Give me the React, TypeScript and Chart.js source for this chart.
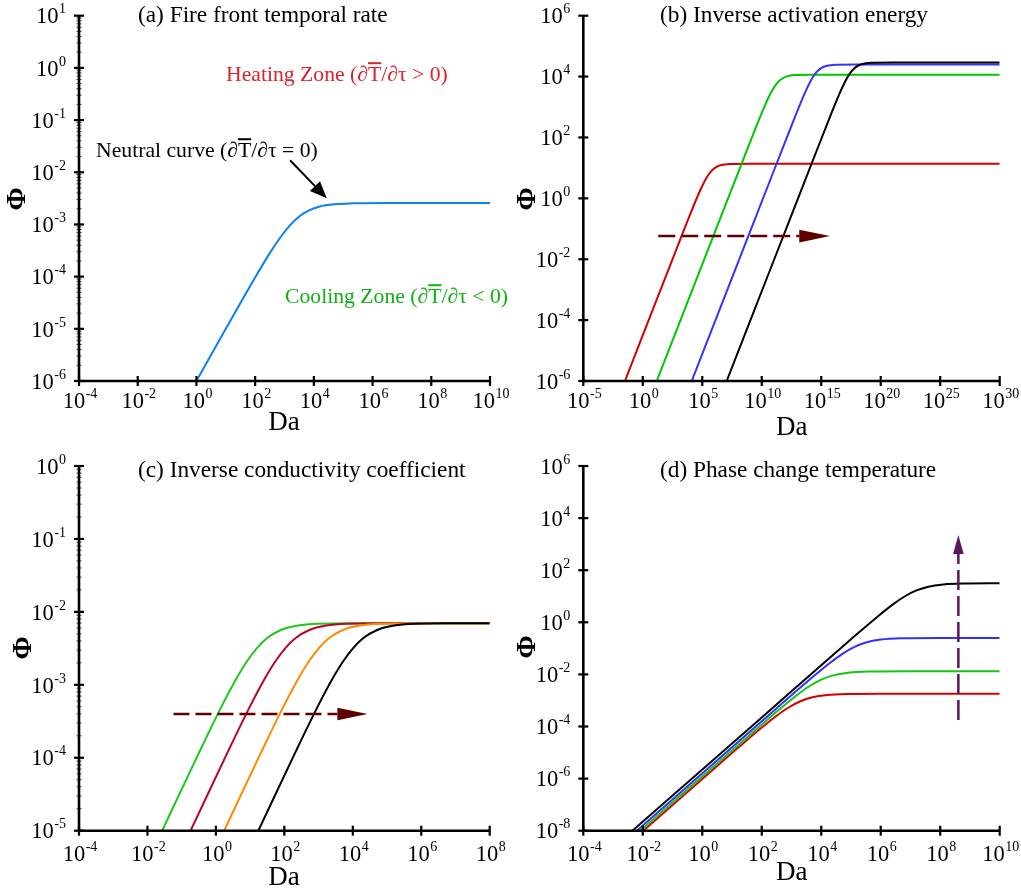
import React, { useEffect, useRef } from 'react';
import { Chart, registerables } from 'chart.js';
Chart.register(...registerables);

// ---------- DATA (log10 values) ----------
// Panel (a) Fire front temporal rate
const aXTickExps = [-4, -2, 0, 2, 4, 6, 8, 10];
const aYTickExps = [-6, -5, -4, -3, -2, -1, 0, 1];
const aBlueLogDa = [0, 1, 2, 2.5, 2.9, 3.2, 3.5, 3.8, 4.2, 4.7, 5.3, 6.5, 10];
const aBlueLogPhi = [-6, -5, -4.016, -3.55, -3.217, -3.009, -2.848, -2.738, -2.655, -2.612, -2.596, -2.59, -2.59];

// Panel (b) Inverse activation energy
const bXTickExps = [-5, 0, 5, 10, 15, 20, 25, 30];
const bYTickExps = [-6, -4, -2, 0, 2, 4, 6];
const bRedLogDa = [-1.5, 2, 4.0, 4.8, 5.3, 5.7, 6.1, 6.6, 7.3, 9, 30];
const bRedLogPhi = [-6, -2.5, -0.51, 0.241, 0.637, 0.868, 1.011, 1.095, 1.13, 1.14, 1.14];
const bGreenLogDa = [1.17, 5, 8, 9.5, 10.3, 10.8, 11.2, 11.6, 12.1, 12.8, 14, 30];
const bGreenLogPhi = [-6, -2.17, 0.83, 2.322, 3.082, 3.493, 3.744, 3.906, 4.007, 4.049, 4.06, 4.06];
const bBlueLogDa = [4.11, 8, 11, 12.8, 13.6, 14.1, 14.5, 14.9, 15.4, 16.2, 18, 30];
const bBlueLogPhi = [-6, -2.11, 0.89, 2.682, 3.44, 3.847, 4.094, 4.252, 4.347, 4.391, 4.4, 4.4];
const bBlackLogDa = [7.05, 11, 14, 15.8, 16.6, 17.1, 17.5, 17.9, 18.4, 19.2, 21, 30];
const bBlackLogPhi = [-6, -2.05, 0.95, 2.742, 3.5, 3.907, 4.154, 4.312, 4.407, 4.451, 4.46, 4.46];

// Panel (c) Inverse conductivity coefficient
const cXTickExps = [-4, -2, 0, 2, 4, 6, 8];
const cYTickExps = [-5, -4, -3, -2, -1, 0];
const cGreenLogDa = [-1.57, -0.5, 0.2, 0.6, 0.9, 1.2, 1.5, 1.9, 2.4, 3.0, 4.0, 8];
const cGreenLogPhi = [-5, -3.937, -3.265, -2.913, -2.683, -2.496, -2.359, -2.248, -2.188, -2.164, -2.157, -2.156];
const cRedLogDa = [-0.74, 0.33, 1.03, 1.43, 1.73, 2.03, 2.33, 2.73, 3.23, 3.83, 4.83, 8];
const cRedLogPhi = [-5, -3.937, -3.265, -2.913, -2.683, -2.496, -2.359, -2.248, -2.188, -2.164, -2.157, -2.156];
const cOrangeLogDa = [0.24, 1.31, 2.01, 2.41, 2.71, 3.01, 3.31, 3.71, 4.21, 4.81, 5.81, 8];
const cOrangeLogPhi = [-5, -3.937, -3.265, -2.913, -2.683, -2.496, -2.359, -2.248, -2.188, -2.164, -2.157, -2.156];
const cBlackLogDa = [1.24, 2.31, 3.01, 3.41, 3.71, 4.01, 4.31, 4.71, 5.21, 5.81, 6.81, 8];
const cBlackLogPhi = [-5, -3.937, -3.265, -2.913, -2.683, -2.496, -2.359, -2.248, -2.188, -2.164, -2.157, -2.156];

// Panel (d) Phase change temperature
const dXTickExps = [-4, -2, 0, 2, 4, 6, 8, 10];
const dYTickExps = [-8, -6, -4, -2, 0, 2, 4, 6];
const dBlackLogDa = [-2.35, 2, 5, 5.9, 6.4, 6.8, 7.2, 7.6, 8.1, 8.8, 10];
const dBlackLogPhi = [-8, -3.65, -0.65, 0.226, 0.679, 0.99, 1.223, 1.368, 1.454, 1.49, 1.5];
const dBlueLogDa = [-2.2, 2, 3.8, 4.3, 4.7, 5.1, 5.5, 6.0, 6.7, 8, 10];
const dBlueLogPhi = [-8, -3.8, -2.017, -1.551, -1.219, -0.954, -0.776, -0.664, -0.614, -0.6, -0.6];
const dGreenLogDa = [-2.08, 1.5, 2.7, 3.2, 3.6, 4.0, 4.4, 4.9, 5.6, 7, 10];
const dGreenLogPhi = [-8, -4.42, -3.239, -2.779, -2.455, -2.202, -2.037, -1.936, -1.892, -1.88, -1.88];
const dRedLogDa = [-1.98, 1.2, 2.0, 2.5, 2.9, 3.3, 3.7, 4.2, 4.9, 6, 10];
const dRedLogPhi = [-8, -4.82, -4.042, -3.587, -3.271, -3.031, -2.88, -2.789, -2.75, -2.74, -2.74];

// ---------- STYLE / LAYOUT ----------
const SERIF = '"Liberation Serif", "DejaVu Serif", serif';

type Series = { x: number[]; y: number[]; color: string };
type Arrow = { x1: number; y1: number; xb: number; yb: number; xt: number; yt: number; color: string; dash: number[]; half: number; lw: number };
type Note = { text: string; x: number; y: number; color: string };
type Panel = {
  id: string; left: number; top: number; w: number; h: number;
  pad: { left: number; top: number; right: number; bottom: number };
  xTicks: number[]; yTicks: number[]; minorY: boolean; xLabDy: number;
  title: string; titleX: number; titleY: number;
  daX: number; daY: number; phiX: number; phiY: number;
  series: Series[]; arrows: Arrow[]; notes: Note[];
  blackArrow?: { x1: number; y1: number; xt: number; yt: number };
};

const PANELS: Panel[] = [
  {
    id: 'a', left: 0, top: 0, w: 510, h: 446,
    pad: { left: 79, top: 15.7, right: 20, bottom: 65 },
    xTicks: aXTickExps, yTicks: aYTickExps, minorY: true, xLabDy: 27,
    title: '(a) Fire front temporal rate', titleX: 138, titleY: 21.7,
    daX: 284, daY: 430, phiX: 17.5, phiY: 199,
    series: [{ x: aBlueLogDa, y: aBlueLogPhi, color: '#0a80f5' }],
    arrows: [],
    notes: [
      { text: 'Heating Zone (∂T/∂τ > 0)', x: 226, y: 80.7, color: '#e0202a' },
      { text: 'Neutral curve (∂T/∂τ = 0)', x: 96, y: 156.7, color: '#000000' },
      { text: 'Cooling Zone (∂T/∂τ < 0)', x: 285, y: 302.7, color: '#12b012' },
    ],
    blackArrow: { x1: 3.19, y1: -1.77, xt: 4.44, yt: -2.5 },
  },
  {
    id: 'b', left: 510, top: 0, w: 511, h: 446,
    pad: { left: 73.3, top: 15.7, right: 21.3, bottom: 65 },
    xTicks: bXTickExps, yTicks: bYTickExps, minorY: false, xLabDy: 27,
    title: '(b) Inverse activation energy', titleX: 150, titleY: 21.7,
    daX: 281.7, daY: 435, phiX: 17.5, phiY: 199,
    series: [
      { x: bBlackLogDa, y: bBlackLogPhi, color: '#000000' },
      { x: bBlueLogDa, y: bBlueLogPhi, color: '#3333ff' },
      { x: bGreenLogDa, y: bGreenLogPhi, color: '#00c800' },
      { x: bRedLogDa, y: bRedLogPhi, color: '#d40000' },
    ],
    arrows: [{ x1: 1.3, y1: -1.24, xb: 13.15, yb: -1.24, xt: 15.73, yt: -1.24, color: '#5e0000', dash: [17, 6], half: 6.3, lw: 2.5 }],
    notes: [],
  },
  {
    id: 'c', left: 0, top: 446, w: 510, h: 446,
    pad: { left: 79, top: 20, right: 20.3, bottom: 61.3 },
    xTicks: cXTickExps, yTicks: cYTickExps, minorY: true, xLabDy: 30,
    title: '(c) Inverse conductivity coefficient', titleX: 138, titleY: 30.7,
    daX: 284, daY: 439, phiX: 24, phiY: 202,
    series: [
      { x: cBlackLogDa, y: cBlackLogPhi, color: '#000000' },
      { x: cOrangeLogDa, y: cOrangeLogPhi, color: '#ff8a00' },
      { x: cRedLogDa, y: cRedLogPhi, color: '#bc0428' },
      { x: cGreenLogDa, y: cGreenLogPhi, color: '#1ec81e' },
    ],
    arrows: [{ x1: -1.24, y1: -3.4, xb: 3.55, yb: -3.4, xt: 4.43, yt: -3.4, color: '#5e0000', dash: [16, 6], half: 6.2, lw: 2.5 }],
    notes: [],
  },
  {
    id: 'd', left: 510, top: 446, w: 511, h: 446,
    pad: { left: 73.3, top: 20, right: 21.3, bottom: 61.3 },
    xTicks: dXTickExps, yTicks: dYTickExps, minorY: false, xLabDy: 30,
    title: '(d) Phase change temperature', titleX: 150, titleY: 30.7,
    daX: 281.7, daY: 434, phiX: 17.5, phiY: 201,
    series: [
      { x: dBlackLogDa, y: dBlackLogPhi, color: '#000000' },
      { x: dBlueLogDa, y: dBlueLogPhi, color: '#3030ff' },
      { x: dGreenLogDa, y: dGreenLogPhi, color: '#10c810' },
      { x: dRedLogDa, y: dRedLogPhi, color: '#d80000' },
    ],
    arrows: [{ x1: 8.61, y1: -3.75, xb: 8.61, yb: 2.62, xt: 8.61, yt: 3.35, color: '#58185a', dash: [20, 6], half: 5.3, lw: 2.5 }],
    notes: [],
  },
];

function drawPow(ctx: CanvasRenderingContext2D, exp: number, x: number, baseline: number, align: 'right' | 'center') {
  const es = String(exp);
  ctx.font = `22.5px ${SERIF}`;
  const w10 = ctx.measureText('10').width;
  ctx.font = `14px ${SERIF}`;
  const we = ctx.measureText(es).width;
  const total = w10 + 0.5 + we;
  const x0 = align === 'right' ? x - total : x - total / 2;
  ctx.textAlign = 'left';
  ctx.textBaseline = 'alphabetic';
  ctx.font = `22.5px ${SERIF}`;
  ctx.fillText('10', x0, baseline);
  ctx.font = `14px ${SERIF}`;
  ctx.fillText(es, x0 + w10 + 0.5, baseline - 10);
}

function drawArrowHead(ctx: CanvasRenderingContext2D, xb: number, yb: number, xt: number, yt: number, half: number) {
  const ang = Math.atan2(yt - yb, xt - xb);
  const px = -Math.sin(ang) * half;
  const py = Math.cos(ang) * half;
  ctx.beginPath();
  ctx.moveTo(xt, yt);
  ctx.lineTo(xb + px, yb + py);
  ctx.lineTo(xb - px, yb - py);
  ctx.closePath();
  ctx.fill();
}

function makeDecor(p: Panel) {
  return {
    id: 'decor_' + p.id,
    afterDraw(chart: any) {
      const ctx: CanvasRenderingContext2D = chart.ctx;
      const xs = chart.scales.x;
      const ys = chart.scales.y;
      const X = (e: number) => xs.getPixelForValue(Math.pow(10, e));
      const Y = (e: number) => ys.getPixelForValue(Math.pow(10, e));
      const xMin = p.xTicks[0], xMax = p.xTicks[p.xTicks.length - 1];
      const yMin = p.yTicks[0], yMax = p.yTicks[p.yTicks.length - 1];
      const L = X(xMin), R = X(xMax), B = Y(yMin), T = Y(yMax);
      ctx.save();
      ctx.fillStyle = '#000';
      ctx.strokeStyle = '#000';
      // minor ticks
      if (p.minorY) {
        ctx.lineWidth = 1;
        ctx.strokeStyle = '#444';
        for (let k = yMin; k < yMax; k++) {
          for (let m = 2; m <= 9; m++) {
            const yy = ys.getPixelForValue(m * Math.pow(10, k));
            ctx.beginPath();
            ctx.moveTo(L - 2.5, yy);
            ctx.lineTo(L + 2.5, yy);
            ctx.stroke();
          }
        }
        ctx.strokeStyle = '#000';
      }
      // axes
      ctx.lineWidth = 2.6;
      ctx.lineCap = 'butt';
      ctx.beginPath();
      ctx.moveTo(L, T);
      ctx.lineTo(L, B + 1.3);
      ctx.moveTo(L - 1.3, B);
      ctx.lineTo(R, B);
      ctx.stroke();
      // major ticks
      ctx.lineWidth = 2.2;
      for (const e of p.yTicks) {
        const yy = Y(e);
        ctx.beginPath();
        ctx.moveTo(L - 5, yy);
        ctx.lineTo(L + 5, yy);
        ctx.stroke();
        drawPow(ctx, e, L - 13, yy + 7.7, 'right');
      }
      for (const e of p.xTicks) {
        const xx = X(e);
        ctx.beginPath();
        ctx.moveTo(xx, B - 5);
        ctx.lineTo(xx, B + 5);
        ctx.stroke();
        drawPow(ctx, e, xx + 1, B + p.xLabDy, 'center');
      }
      // title
      ctx.font = `23.3px ${SERIF}`;
      ctx.textAlign = 'left';
      ctx.fillText(p.title, p.titleX, p.titleY);
      // Da
      ctx.font = `27px ${SERIF}`;
      ctx.textAlign = 'center';
      ctx.fillText('Da', p.daX, p.daY);
      // Phi
      ctx.save();
      ctx.translate(p.phiX, p.phiY);
      ctx.rotate(-Math.PI / 2);
      ctx.font = `bold 28px ${SERIF}`;
      ctx.textAlign = 'center';
      ctx.textBaseline = 'middle';
      ctx.fillText('Φ', 0, 0);
      ctx.restore();
      // dashed arrows
      for (const a of p.arrows) {
        const x1 = X(a.x1), y1 = Y(a.y1), xb = X(a.xb), yb = Y(a.yb), xt = X(a.xt), yt = Y(a.yt);
        ctx.strokeStyle = a.color;
        ctx.fillStyle = a.color;
        ctx.lineWidth = a.lw;
        ctx.setLineDash(a.dash);
        ctx.beginPath();
        ctx.moveTo(x1, y1);
        ctx.lineTo(xb, yb);
        ctx.stroke();
        ctx.setLineDash([]);
        drawArrowHead(ctx, xb, yb, xt, yt, a.half);
      }
      // notes with overline on T
      for (const n of p.notes) {
        ctx.font = `21.7px ${SERIF}`;
        ctx.textAlign = 'left';
        ctx.textBaseline = 'alphabetic';
        ctx.fillStyle = n.color;
        ctx.fillText(n.text, n.x, n.y);
        const idx = n.text.indexOf('∂T') + 1;
        const pre = ctx.measureText(n.text.slice(0, idx)).width;
        const tw = ctx.measureText('T').width;
        ctx.strokeStyle = n.color;
        ctx.lineWidth = 2;
        ctx.beginPath();
        ctx.moveTo(n.x + pre, n.y - 17.5);
        ctx.lineTo(n.x + pre + tw, n.y - 17.5);
        ctx.stroke();
      }
      // black solid arrow in (a)
      if (p.blackArrow) {
        const ba = p.blackArrow;
        const x1 = X(ba.x1), y1 = Y(ba.y1), xt = X(ba.xt), yt = Y(ba.yt);
        const len = Math.hypot(xt - x1, yt - y1);
        const ux = (xt - x1) / len, uy = (yt - y1) / len;
        const xb = xt - ux * 17, yb = yt - uy * 17;
        ctx.strokeStyle = '#000';
        ctx.fillStyle = '#000';
        ctx.lineWidth = 2;
        ctx.beginPath();
        ctx.moveTo(x1, y1);
        ctx.lineTo(xb, yb);
        ctx.stroke();
        drawArrowHead(ctx, xb, yb, xt, yt, 7);
      }
      ctx.restore();
    },
  };
}

function PanelChart({ p }: { p: Panel }) {
  const ref = useRef<HTMLCanvasElement>(null);
  useEffect(() => {
    const canvas = ref.current;
    if (!canvas) return;
    const xMin = p.xTicks[0], xMax = p.xTicks[p.xTicks.length - 1];
    const yMin = p.yTicks[0], yMax = p.yTicks[p.yTicks.length - 1];
    const chart = new Chart(canvas, {
      type: 'line',
      data: {
        datasets: p.series.map((s) => ({
          data: s.x.map((v, i) => ({ x: Math.pow(10, v), y: Math.pow(10, s.y[i]) })),
          borderColor: s.color,
          borderWidth: 2,
          pointRadius: 0,
          fill: false,
          cubicInterpolationMode: 'monotone' as const,
        })),
      },
      options: {
        animation: false,
        responsive: false,
        maintainAspectRatio: false,
        events: [],
        layout: { padding: p.pad },
        plugins: { legend: { display: false }, tooltip: { enabled: false }, title: { display: false } },
        scales: {
          x: { type: 'logarithmic', display: false, min: Math.pow(10, xMin), max: Math.pow(10, xMax) },
          y: { type: 'logarithmic', display: false, min: Math.pow(10, yMin), max: Math.pow(10, yMax) },
        },
      },
      plugins: [makeDecor(p)],
    } as any);
    return () => chart.destroy();
  }, [p]);
  return (
    <canvas
      ref={ref}
      width={p.w}
      height={p.h}
      style={{ position: 'absolute', left: p.left, top: p.top, width: p.w, height: p.h }}
    />
  );
}

export default function App() {
  return (
    <div style={{ position: 'absolute', left: 0, top: 0, width: 1021, height: 892, background: '#ffffff', overflow: 'hidden' }}>
      {PANELS.map((p) => (
        <PanelChart key={p.id} p={p} />
      ))}
    </div>
  );
}
